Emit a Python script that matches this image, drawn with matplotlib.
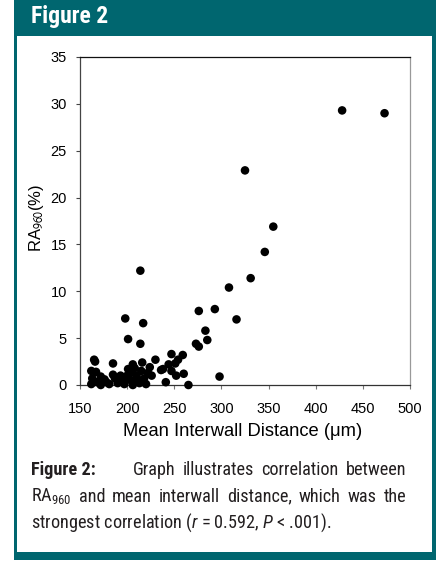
import matplotlib
matplotlib.use("Agg")
import matplotlib.pyplot as plt
from matplotlib import font_manager
from matplotlib.patches import Rectangle

# ---------------- data ----------------
x_dist = [428, 473, 325, 355, 346, 331, 308, 214, 276, 293, 316, 198, 217, 201, 214,
          283, 285, 273, 276, 298, 265,
          247, 259, 230, 254, 244, 251, 238, 236, 247, 260, 252, 226, 241, 224, 216,
          206, 201, 204, 222,
          165, 166, 185, 162, 167, 172, 185, 163, 176, 187, 195, 204, 211, 218, 162,
          172, 181, 190, 197, 206, 213, 220, 200, 210, 193, 178, 168, 215, 208, 197]
ra960 = [29.3, 29.0, 22.9, 16.9, 14.2, 11.4, 10.4, 12.2, 7.9, 8.1, 7.0, 7.1, 6.6, 4.9, 4.4,
         5.8, 4.8, 4.4, 4.1, 0.9, 0.0,
         3.3, 3.2, 2.7, 2.7, 2.2, 2.3, 1.7, 1.6, 1.5, 1.2, 1.0, 1.0, 0.3, 1.9, 2.4,
         2.2, 1.7, 1.3, 1.3,
         2.7, 2.5, 2.3, 1.5, 1.4, 0.9, 1.1, 0.7, 0.6, 0.7, 0.6, 0.5, 0.6, 0.7, 0.1,
         0.0, 0.1, 0.2, 0.1, 0.0, 0.2, 0.1, 1.0, 1.0, 1.0, 0.3, 0.3, 1.5, 1.8, 0.4]
x_ticks = [150, 200, 250, 300, 350, 400, 450, 500]
y_ticks = [0, 5, 10, 15, 20, 25, 30, 35]

# ---------------- fonts ----------------
names = {f.name for f in font_manager.fontManager.ttflist}
SANS = "Liberation Sans" if "Liberation Sans" in names else "DejaVu Sans"
NARROW = SANS
for cand in ["Roboto Condensed", "Archivo Narrow", "Barlow Semi Condensed",
             "Encode Sans Condensed", "Asap Condensed"]:
    if cand in names:
        NARROW = cand
        break

plt.rcParams["mathtext.fontset"] = "custom"
plt.rcParams["mathtext.rm"] = NARROW
plt.rcParams["mathtext.it"] = NARROW + ":italic"
plt.rcParams["mathtext.bf"] = NARROW + ":bold"

W, H = 436, 581
fig = plt.figure(figsize=(W / 100, H / 100), dpi=100)
fig.patch.set_facecolor("white")
renderer = fig.canvas.get_renderer()

TEAL = "#00666f"


def fx(x):
    return x / W


def fy(y):
    return 1 - y / H


def rect(x0, y0, x1, y1, color):
    fig.add_artist(Rectangle((fx(x0), fy(y1)), fx(x1) - fx(x0), fy(y0) - fy(y1),
                             transform=fig.transFigure, facecolor=color,
                             edgecolor="none", zorder=0))


def size_for(text, target_w, **kw):
    t = fig.text(0, 0, text, fontsize=12, **kw)
    w = t.get_window_extent(renderer).width
    t.remove()
    return 12 * target_w / w


# frame
rect(14, 0, 436, 36, TEAL)
rect(14, 36, 17, 560, TEAL)
rect(432, 36, 436, 560, TEAL)
rect(14, 552, 436, 560, TEAL)

hs = min(size_for("Figure 2", 80, fontweight="bold", family=NARROW), 17)
fig.text(fx(31), fy(23), "Figure 2", color="white", fontsize=hs,
         fontweight="bold", family=NARROW, va="baseline", ha="left")

# ---------------- axes ----------------
ax = fig.add_axes([fx(80), fy(385), fx(410) - fx(80), fy(57) - fy(385)])
ax.scatter(x_dist, ra960, s=38, color="black", edgecolors="none", clip_on=False, zorder=3)
ax.set_xlim(150, 500)
ax.set_ylim(0, 35)
ax.set_xticks(x_ticks)
ax.set_yticks(y_ticks)
ax.tick_params(axis="x", length=3, width=0.8, color="#777777", pad=9,
               labelsize=10.5, direction="out")
ax.tick_params(axis="y", length=3, width=0.8, color="#444444", pad=6.5,
               labelsize=10.5, direction="out")
for lab in ax.get_xticklabels() + ax.get_yticklabels():
    lab.set_family(SANS)
ax.spines["top"].set_color("#111111")
ax.spines["left"].set_color("#444444")
ax.spines["bottom"].set_color("#333333")
ax.spines["right"].set_color("#999999")
for sp in ax.spines.values():
    sp.set_linewidth(0.9)

xlab = "Mean Interwall Distance (\u03bcm)"
xs = min(size_for(xlab, 240, family=SANS), 13.5)
fig.text(fx(243), fy(432), xlab, family=SANS, fontsize=xs, ha="center", va="center")
yl = fig.text(fx(36), fy(218), "RA$_{960}$(%)", family=SANS, fontsize=12,
              rotation=90, ha="center", va="center")
yl.set_math_fontfamily("stixsans")

# ---------------- caption ----------------
CCOL = "#231f20"
line1 = ["Graph", "illustrates", "correlation", "between"]
line2 = ["RA$_{960}$", "and", "mean", "interwall", "distance,", "which", "was", "the"]
line3 = "strongest correlation ($r$ = 0.592, $P$ < .001)."
CAP = min(size_for(line3, 339, family=NARROW),
          size_for(" ".join(line1), 266, family=NARROW),
          size_for(" ".join(line2), 368, family=NARROW))


def justify(words, x0, x1, ybase, **kw):
    texts = [fig.text(0, fy(ybase), w, va="baseline", ha="left", **kw) for w in words]
    widths = [t.get_window_extent(renderer).width for t in texts]
    gap = (x1 - x0 - sum(widths)) / (len(words) - 1)
    x = x0
    for t, w in zip(texts, widths):
        t.set_x(fx(x))
        x += w + gap


fig.text(fx(31), fy(475), "Figure 2:", family=NARROW, fontweight="bold",
         fontsize=CAP, va="baseline", ha="left", color=CCOL)
justify(line1, 133, 406, 475, family=NARROW, fontsize=CAP, color=CCOL)
justify(line2, 31, 406, 501.5, family=NARROW, fontsize=CAP, color=CCOL)
fig.text(fx(31), fy(527.5), line3, family=NARROW, fontsize=CAP, color=CCOL,
         va="baseline", ha="left")

fig.savefig("out.png", dpi=100, facecolor="white")
